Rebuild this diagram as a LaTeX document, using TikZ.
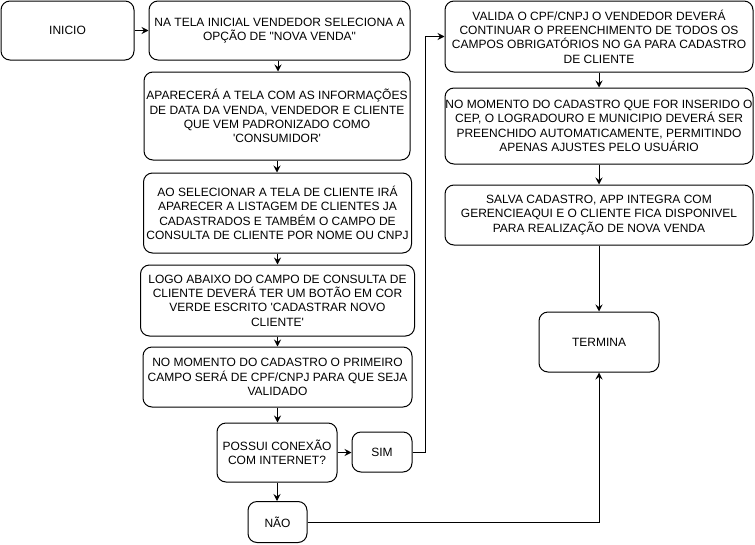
\documentclass[tikz,border=0pt]{standalone}
\usepackage{fontspec}
\setmainfont{Liberation Sans}[Ligatures=TeXOff]
\usetikzlibrary{arrows.meta}
\begin{document}
\begin{tikzpicture}[x=1pt,y=-1pt,
  box/.style={draw=black, line width=1pt, rounded corners=9pt, align=center,
    inner sep=0pt, font=\fontsize{12}{14.4}\selectfont, text=black},
  conn/.style={line width=1pt, -{Stealth[length=7pt,width=7pt,inset=2.5pt]}},
  plain/.style={line width=1pt}]
\useasboundingbox (0,0) rectangle (755,544);
\node[box, minimum width=133pt, minimum height=59pt] (inicio) at (67.5,30.5) {INICIO};
\node[box, minimum width=261pt, minimum height=59pt] (b1) at (279.5,30.5) {NA TELA INICIAL VENDEDOR SELECIONA A\\OPÇÃO DE "NOVA VENDA"};
\node[box, minimum width=266pt, minimum height=88pt] (b2) at (277,116) {APARECERÁ A TELA COM AS INFORMAÇÕES\\DE DATA DA VENDA, VENDEDOR E CLIENTE\\QUE VEM PADRONIZADO COMO\\'CONSUMIDOR'};
\node[box, minimum width=268pt, minimum height=80pt] (b3) at (277.5,213) {AO SELECIONAR A TELA DE CLIENTE IRÁ\\APARECER A LISTAGEM DE CLIENTES JA\\CADASTRADOS E TAMBÉM O CAMPO DE\\CONSULTA DE CLIENTE POR NOME OU CNPJ};
\node[box, minimum width=274pt, minimum height=71pt] (b4) at (277.5,300.5) {LOGO ABAIXO DO CAMPO DE CONSULTA DE\\CLIENTE DEVERÁ TER UM BOTÃO EM COR\\VERDE ESCRITO 'CADASTRAR NOVO\\CLIENTE'};
\node[box, minimum width=269pt, minimum height=60pt] (b5) at (277.5,377) {NO MOMENTO DO CADASTRO O PRIMEIRO\\CAMPO SERÁ DE CPF/CNPJ PARA QUE SEJA\\VALIDADO};
\node[box, minimum width=120pt, minimum height=59pt] (dec) at (277,452.5) {POSSUI CONEXÃO\\COM INTERNET?};
\node[box, minimum width=60pt, minimum height=40pt] (sim) at (382,452) {SIM};
\node[box, minimum width=59pt, minimum height=41pt] (nao) at (277.5,522) {NÃO};
\node[box, minimum width=308pt, minimum height=71pt] (r1) at (599,36.5) {VALIDA O CPF/CNPJ O VENDEDOR DEVERÁ\\CONTINUAR O PREENCHIMENTO DE TODOS OS\\CAMPOS OBRIGATÓRIOS NO GA PARA CADASTRO\\DE CLIENTE};
\node[box, minimum width=308pt, minimum height=76pt] (r2) at (599,126) {NO MOMENTO DO CADASTRO QUE FOR INSERIDO O\\CEP, O LOGRADOURO E MUNICIPIO DEVERÁ SER\\PREENCHIDO AUTOMATICAMENTE, PERMITINDO\\APENAS AJUSTES PELO USUÁRIO};
\node[box, minimum width=308pt, minimum height=60pt] (r3) at (599,215) {SALVA CADASTRO, APP INTEGRA COM\\GERENCIEAQUI E O CLIENTE FICA DISPONIVEL\\PARA REALIZAÇÃO DE NOVA VENDA};
\node[box, minimum width=120pt, minimum height=60pt] (term) at (599,342) {TERMINA};

\draw[conn] (inicio.east) -- (b1.west |- inicio.east);
\draw[conn] ([xshift=-1.5pt]b1.south) -- ([xshift=-1.5pt]b1.south |- b2.north);
\draw[conn] (b2.south) -- (b2.south |- b3.north);
\draw[conn] (b3.south) -- (b3.south |- b4.north);
\draw[conn] (b4.south) -- (b4.south |- b5.north);
\draw[conn] (b5.south) -- (b5.south |- dec.north);
\draw[conn] (dec.east) -- (sim.west |- dec.east);
\draw[conn] (dec.south) -- (dec.south |- nao.north);
\coordinate (turn) at ([xshift=13pt]sim.east);
\draw[conn] (sim.east) -- (turn) |- (r1.west);
\draw[conn] (r1.south) -- (r2.north);
\draw[conn] (r2.south) -- (r3.north);
\draw[conn] (r3.south) -- (term.north);
\draw[conn] (nao.east) -| (term.south);
\end{tikzpicture}
\end{document}
